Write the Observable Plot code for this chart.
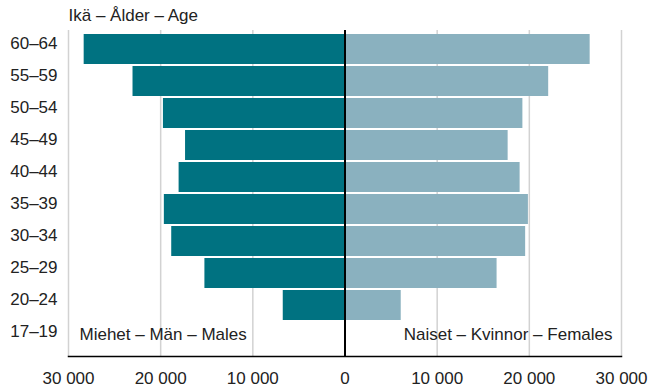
<!DOCTYPE html>
<html>
<head>
<meta charset="utf-8">
<script src="https://cdn.jsdelivr.net/npm/d3@7"></script>
<script src="https://cdn.jsdelivr.net/npm/@observablehq/plot@0.6"></script>
<style>
  html, body { margin: 0; padding: 0; background: #fff; }
  #chart svg { display: block; }
</style>
</head>
<body>
<div id="chart"></div>
<script>
const ageGroups = ["60–64", "55–59", "50–54", "45–49", "40–44", "35–39", "30–34", "25–29", "20–24", "17–19"];
const males   = [28300, 23000, 19700, 17300, 18000, 19600, 18800, 15200, 6700, 0];
const females = [26600, 22100, 19300, 17700, 19000, 19900, 19600, 16500, 6100, 0];
const xTicks = [-30000, -20000, -10000, 0, 10000, 20000, 30000];
const titleText = "Ikä – Ålder – Age";
const maleLabel = "Miehet – Män – Males";
const femaleLabel = "Naiset – Kvinnor – Females";

const rows = [];
ageGroups.forEach((a, i) => {
  rows.push({age: a, sex: "m", value: -males[i]});
  rows.push({age: a, sex: "f", value: females[i]});
});

const fmt = v => d3.format(",")(Math.abs(v)).replace(/,/g, " ");
const font = "'Liberation Sans', Arial, Helvetica, sans-serif";

const chart = Plot.plot({
  width: 656,
  height: 390,
  marginTop: 30,
  marginBottom: 34,
  marginLeft: 68,
  marginRight: 35,
  style: {fontFamily: font, fontSize: "17px", color: "#222", background: "#fff"},
  x: {domain: [-30000, 30000]},
  y: {domain: ageGroups, padding: 0.07},
  color: {domain: ["m", "f"], range: ["#007281", "#8ab1bf"]},
  marks: [
    Plot.ruleX(xTicks.filter(d => d !== 0), {stroke: "#d2d2d2", strokeWidth: 1.5}),
    Plot.barX(rows, {x: "value", y: "age", fill: "sex"}),
    Plot.ruleX([0], {stroke: "#000", strokeWidth: 2}),
    Plot.frame({anchor: "bottom", stroke: "#000", strokeWidth: 1.5}),
    Plot.axisX({ticks: xTicks, tickFormat: fmt, tickSize: 0, tickPadding: 15, label: null, fontSize: 17}),
    Plot.axisY({tickSize: 0, tickPadding: 11, label: null, dy: -6, fontSize: 17}),
    Plot.text([titleText], {frameAnchor: "top-left", text: d => d, dy: -15, textAnchor: "start", lineAnchor: "middle", fontSize: 17, fill: "#222"}),
    Plot.text([maleLabel], {frameAnchor: "bottom-left", text: d => d, dx: 11, dy: -22, textAnchor: "start", lineAnchor: "middle", fontSize: 17, fill: "#222"}),
    Plot.text([femaleLabel], {frameAnchor: "bottom-right", text: d => d, dx: -9, dy: -22, textAnchor: "end", lineAnchor: "middle", fontSize: 17, fill: "#222"})
  ]
});
document.getElementById("chart").appendChild(chart);
</script>
</body>
</html>
